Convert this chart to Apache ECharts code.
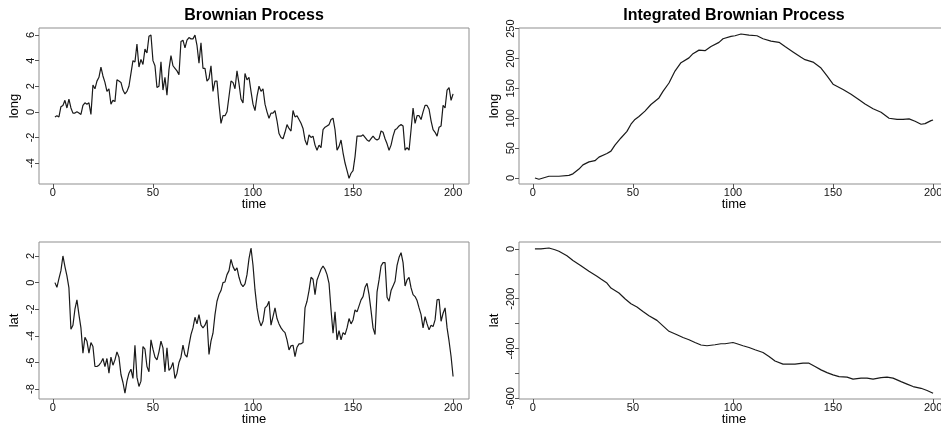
<!DOCTYPE html>
<html>
<head>
<meta charset="utf-8">
<script src="https://cdn.jsdelivr.net/npm/echarts@6/dist/echarts.min.js"></script>
<style>
  html, body { margin: 0; padding: 0; background: #fff; }
  #chart { width: 941px; height: 424px; }
</style>
</head>
<body>
<div id="chart"></div>
<script>
// Brownian process, one value per time step 1..200
const longBM = [
  -0.4, -0.3, -0.4, 0.4, 0.5, 0.9, 0.3, 1.0, 0.3, -0.1,
  -0.1, 0.0, -0.1, -0.2, 0.5, 0.7, 0.6, 0.7, -0.2, 2.1,
  1.8, 2.4, 2.7, 3.5, 2.8, 2.3, 1.6, 1.8, 0.6, 0.9,
  0.8, 2.5, 2.4, 2.3, 1.7, 1.4, 1.6, 2.0, 3.0, 4.0,
  3.9, 5.3, 3.5, 4.1, 3.7, 4.9, 4.6, 5.9, 6.0, 4.0,
  3.6, 1.9, 2.0, 3.9, 1.7, 2.7, 1.3, 3.3, 4.4, 3.6,
  3.4, 3.2, 2.9, 5.5, 5.6, 5.0, 5.6, 5.8, 5.7, 5.7,
  6.0, 5.2, 3.8, 5.4, 3.4, 3.4, 2.4, 2.6, 3.6, 1.6,
  2.4, 2.4, 0.6, -0.9, -0.3, -0.3, 0.0, 1.2, 2.4, 2.3,
  1.8, 3.2, 2.2, 1.0, 0.7, 3.0, 2.5, 2.7, 1.6, 0.6,
  0.1, 1.2, 2.0, 1.6, 1.8, 0.6, 0.0, -0.5, -0.1, -0.1,
  0.1, -0.7, -1.7, -2.0, -2.1, -1.6, -1.0, -1.3, -1.5, 0.1,
  -0.4, -0.3, -0.6, -0.9, -1.3, -2.2, -2.6, -1.8, -2.0, -1.9,
  -2.6, -3.0, -2.6, -2.8, -1.4, -1.2, -1.1, -1.0, -0.6, -0.5,
  -1.4, -3.0, -2.7, -2.2, -3.2, -4.0, -4.6, -5.2, -4.8, -4.6,
  -3.5, -1.9, -1.9, -1.9, -1.8, -2.0, -2.2, -2.3, -2.1, -1.9,
  -2.1, -2.2, -2.1, -1.5, -1.6, -2.1, -2.5, -3.0, -2.6, -1.9,
  -1.4, -1.3, -1.1, -1.0, -1.1, -3.0, -2.8, -3.0, -1.4, 0.3,
  -0.9, -0.3, -0.3, -0.6, 0.0, 0.5, 0.5, 0.2, -0.7, -1.4,
  -1.6, -1.9, -1.2, -1.1, 0.5, 0.3, 1.7, 1.9, 0.9, 1.4
];
const latBM = [
  0.0, -0.35, 0.3, 0.9, 2.0, 1.2, 0.5, -0.4, -3.5, -3.2,
  -2.0, -1.3, -2.4, -3.4, -5.3, -4.1, -4.4, -5.3, -4.5, -4.8,
  -6.3, -6.3, -6.2, -6.0, -5.7, -6.3, -5.7, -6.8, -5.6, -6.2,
  -5.8, -5.2, -5.6, -6.9, -7.5, -8.3, -7.4, -6.8, -6.5, -7.2,
  -4.7, -7.1, -7.8, -7.4, -4.8, -5.0, -6.3, -6.7, -4.3, -5.0,
  -5.6, -5.8, -5.2, -4.4, -4.9, -6.7, -4.9, -6.6, -6.4, -6.0,
  -7.2, -6.8, -6.0, -5.6, -4.7, -5.4, -5.6, -4.7, -3.9, -3.4,
  -2.6, -3.1, -2.4, -3.2, -3.4, -3.2, -2.8, -5.4, -4.4, -3.8,
  -2.4, -1.4, -0.9, -0.6, 0.0, 0.05, 0.6, 0.9, 1.75, 1.2,
  0.9, 1.1, 0.4, -0.1, -0.3, -0.1, 0.6, 1.8, 2.6, 1.3,
  -0.55, -1.9, -2.8, -3.25, -2.9, -1.9, -1.75, -1.4, -3.2, -2.55,
  -1.9, -2.7, -3.1, -3.4, -3.6, -3.75, -4.3, -5.05, -4.75, -4.7,
  -5.55, -4.85, -4.6, -4.6, -4.5, -1.9, -1.4, -0.6, 0.4, 0.25,
  -0.9, 0.2, 0.6, 1.0, 1.25, 1.0, 0.6, -0.05, -2.05, -3.8,
  -2.2, -4.3, -3.6, -4.3, -3.75, -3.9, -3.4, -2.7, -3.1, -2.8,
  -2.05, -2.2, -1.75, -1.3, -1.05, -0.35, -0.05, -0.9, -2.1, -3.4,
  -3.9, -0.7, 0.2, 1.25, 1.5, 1.5, -1.1, -1.4, -0.6, -0.25,
  0.1, 1.3, 1.9, 2.25, 1.5, -0.25, 0.2, 0.4, -0.4, -0.9,
  -1.05, -1.35, -1.9, -2.4, -3.4, -2.55, -3.1, -3.55, -3.2, -3.3,
  -2.8, -1.3, -1.25, -2.9, -2.3, -1.9, -3.4, -4.4, -5.55, -7.05
];

// integrated process, read at these time points
const intLongTime = [1, 3, 8, 13, 18, 20, 23, 25, 28, 31, 33, 37, 39, 41, 44, 47, 49, 51, 53, 56,
  59, 63, 65, 68, 71, 74, 78, 80, 83, 86, 89, 93, 95, 99, 101, 104, 108, 112, 115, 119,
  123, 126, 130, 134, 136, 140, 144, 147, 150, 155, 159, 163, 166, 170, 174, 178, 182, 185, 188, 191,
  194, 196, 199, 200];
const intLong = [0, -2, 3, 3, 4.5, 7, 15, 22, 27, 29, 35, 41, 45, 55, 67, 78, 90, 98, 103, 112,
  123, 134, 145, 159, 179, 193, 201, 208, 214, 213, 220, 227, 233, 237, 238, 241, 239, 238, 233, 229,
  227, 220, 211, 202, 198, 194, 184, 171, 157, 148, 140, 131, 124, 116, 110, 100, 98, 98, 99, 95,
  90, 91, 96, 97];
const intLatTime = [1, 4, 8, 11, 13, 17, 20, 24, 28, 32, 34, 37, 39, 43, 46, 49, 52, 55, 58, 62,
  65, 68, 72, 75, 78, 81, 84, 87, 91, 94, 96, 100, 102, 105, 108, 111, 115, 118, 121, 125,
  128, 131, 135, 138, 141, 144, 147, 150, 153, 157, 160, 164, 167, 170, 174, 177, 180, 184, 187, 190,
  194, 197, 200];
const intLat = [0, 0, 4, -3, -9, -27, -46, -67, -90, -110, -121, -137, -157, -177, -200, -220, -233, -251, -268, -287,
  -309, -331, -345, -356, -365, -376, -386, -389, -385, -381, -381, -376, -381, -389, -396, -405, -416, -432, -450, -463,
  -463, -463, -459, -459, -472, -486, -497, -506, -513, -515, -523, -519, -519, -523, -517, -515, -519, -533, -543, -553,
  -560, -569, -580];

const timeTicks = [0, 50, 100, 150, 200];
const longTicks = [-4, -2, 0, 2, 4, 6];
const latTicks = [-8, -6, -4, -2, 0, 2];
const intLongTicks = [0, 50, 100, 150, 200, 250];
const intLatTicks = [0, -100, -200, -300, -400, -500, -600];
const intLatLabels = [0, -200, -400, -600];

const font = 'Liberation Sans, Arial, sans-serif';
const chart = echarts.init(document.getElementById('chart'));

const grids = [
  { left: 39, top: 28, width: 430, height: 156 },
  { left: 519, top: 28, width: 430, height: 156 },
  { left: 39, top: 242, width: 430, height: 157 },
  { left: 519, top: 242, width: 430, height: 157 },
];

function xAxis(i) {
  return {
    gridIndex: i,
    type: 'value',
    min: -6.96,
    max: 207.96,
    name: 'time',
    nameLocation: 'middle',
    nameGap: 14,
    nameMoveOverlap: false,
    nameTextStyle: { fontSize: 13, color: '#000', fontFamily: font, verticalAlign: 'top' },
    axisLine: { show: false, onZero: false },
    axisTick: { show: true, length: 4, customValues: timeTicks, lineStyle: { color: '#555' } },
    axisLabel: { customValues: timeTicks, fontSize: 11, color: '#111', margin: 3, fontFamily: font },
    splitLine: { show: false },
  };
}

function yAxis(i, name, min, max, ticks, labels) {
  return {
    gridIndex: i,
    type: 'value',
    min: min,
    max: max,
    name: name,
    nameLocation: 'middle',
    nameGap: 18,
    nameMoveOverlap: false,
    nameTextStyle: { fontSize: 13, color: '#000', fontFamily: font },
    axisLine: { show: false, onZero: false },
    axisTick: { show: true, length: 4, customValues: ticks, lineStyle: { color: '#555' } },
    axisLabel: { customValues: labels, rotate: 90, fontSize: 11, color: '#111', margin: 3, fontFamily: font },
    splitLine: { show: false },
  };
}

function line(i, data) {
  return {
    type: 'line',
    xAxisIndex: i,
    yAxisIndex: i,
    data: data,
    showSymbol: false,
    symbol: 'none',
    lineStyle: { color: '#1a1a1a', width: 1.2 },
  };
}

const option = {
  animation: false,
  backgroundColor: '#fff',
  title: [
    { text: 'Brownian Process', left: 249, top: 3, textAlign: 'center',
      textStyle: { fontSize: 16, fontWeight: 'bold', color: '#000', fontFamily: font } },
    { text: 'Integrated Brownian Process', left: 729, top: 3, textAlign: 'center',
      textStyle: { fontSize: 16, fontWeight: 'bold', color: '#000', fontFamily: font } },
  ],
  grid: grids.map((g) => Object.assign({
    show: true, borderColor: '#8f8f8f', borderWidth: 1, containLabel: false, outerBoundsMode: 'none'
  }, g)),
  xAxis: [xAxis(0), xAxis(1), xAxis(2), xAxis(3)],
  yAxis: [
    yAxis(0, 'long', -5.64, 6.55, longTicks, longTicks),
    yAxis(1, 'long', -10, 251, intLongTicks, intLongTicks),
    yAxis(2, 'lat', -8.74, 3.05, latTicks, latTicks),
    yAxis(3, 'lat', -603, 28, intLatTicks, intLatLabels),
  ],
  series: [
    line(0, longBM.map((v, k) => [k + 1, v])),
    line(1, intLongTime.map((t, k) => [t, intLong[k]])),
    line(2, latBM.map((v, k) => [k + 1, v])),
    line(3, intLatTime.map((t, k) => [t, intLat[k]])),
  ],
};

chart.setOption(option);
</script>
</body>
</html>
